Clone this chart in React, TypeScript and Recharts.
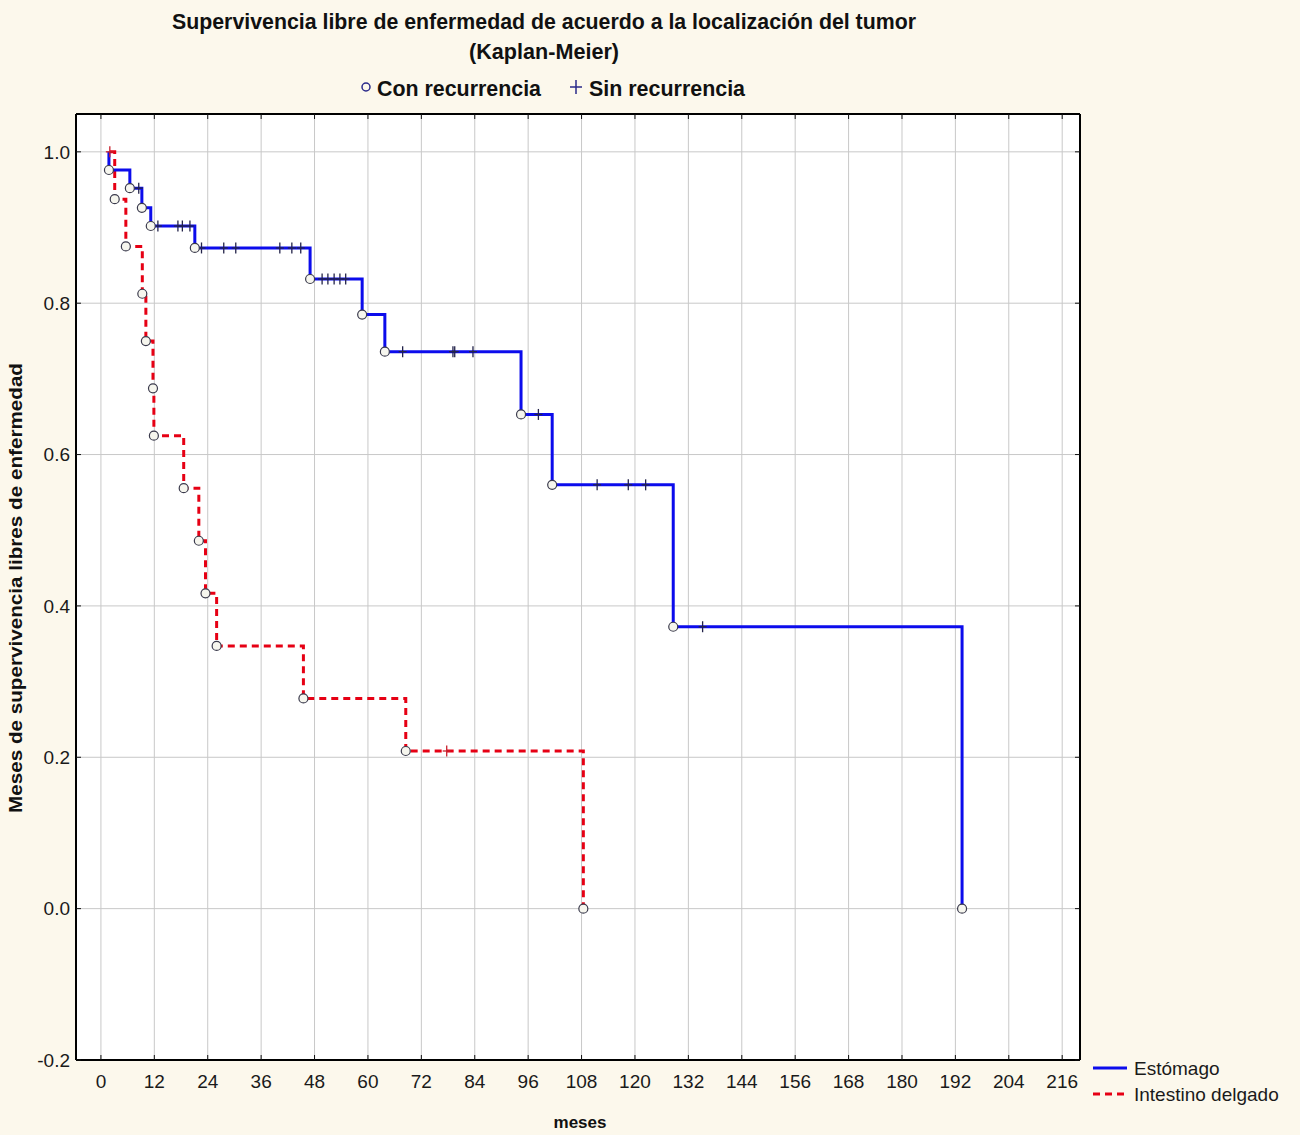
import { CartesianGrid, ComposedChart, Line, Scatter, XAxis, YAxis } from "recharts";

// months (x) and survival (y)
const xTicks = [0, 12, 24, 36, 48, 60, 72, 84, 96, 108, 120, 132, 144, 156, 168, 180, 192, 204, 216];
const yTicks = [-0.2, 0, 0.2, 0.4, 0.6, 0.8, 1.0];

// Estómago
const stomachStart = 1.8;
const stomachEventT = [1.8, 6.5, 9.2, 11.2, 21.1, 47.0, 58.7, 63.8, 94.4, 101.4, 128.6, 193.5];
const stomachEventS = [0.976, 0.952, 0.926, 0.902, 0.873, 0.832, 0.785, 0.736, 0.653, 0.56, 0.3725, 0];
const stomachCensorT = [
  8.5, 12.8, 17.3, 18.3, 20.0, 22.6, 27.6, 30.3, 40.2, 42.9, 44.9, 49.7, 51.0, 52.4, 53.7, 55.0,
  67.8, 79.1, 79.5, 83.6, 98.3, 111.5, 118.5, 122.4, 135.2,
];

// Intestino delgado
const bowelStart = 2.0;
const bowelEventT = [3.1, 5.6, 9.3, 10.1, 11.7, 11.9, 18.6, 22.0, 23.5, 26.0, 45.5, 68.5, 108.4];
const bowelEventS = [0.9375, 0.875, 0.8125, 0.75, 0.6875, 0.625, 0.5556, 0.4861, 0.4167, 0.3472, 0.2778, 0.2083, 0];
const bowelCensorT = [2.0, 77.7];

const BLUE = "#0c0cec";
const RED = "#e60014";
const CREAM = "#fcf8ec";

function stepLine(start: number, ts: number[], ss: number[]) {
  return [{ t: start, s: 1 }, ...ts.map((t, i) => ({ t, s: ss[i] }))];
}

function levelAt(t: number, ts: number[], ss: number[]) {
  let s = 1;
  ts.forEach((et, i) => {
    if (et <= t) s = ss[i];
  });
  return s;
}

const stomachLine = stepLine(stomachStart, stomachEventT, stomachEventS);
const bowelLine = stepLine(bowelStart, bowelEventT, bowelEventS);
const stomachEvents = stomachEventT.map((t, i) => ({ t, s: stomachEventS[i] }));
const bowelEvents = bowelEventT.map((t, i) => ({ t, s: bowelEventS[i] }));
const stomachCensors = stomachCensorT.map((t) => ({ t, s: levelAt(t, stomachEventT, stomachEventS) }));
const bowelCensors = bowelCensorT.map((t) => ({ t, s: levelAt(t, bowelEventT, bowelEventS) }));

const RingShape = (props: any) => (
  <circle cx={props.cx} cy={props.cy} r={4.5} fill="#f6f6ee" stroke="#3a3a4c" strokeWidth={1.2} />
);

const plusShape = (color: string) => (props: any) => (
  <g stroke={color} strokeWidth={1.3}>
    <line x1={props.cx} x2={props.cx} y1={props.cy - 5.5} y2={props.cy + 5.5} />
    <line x1={props.cx - 4} x2={props.cx + 4} y1={props.cy} y2={props.cy} />
  </g>
);

const NoTick = () => <g />;

const tickFont = { fontFamily: "Liberation Sans, Arial, sans-serif", fontSize: 19, fill: "#1a1a1a" };

export default function App() {
  return (
    <div style={{ position: "absolute", left: 0, top: 0, width: 1300, height: 1135, background: CREAM }}>
      <ComposedChart
        width={1300}
        height={1135}
        margin={{ top: 113, right: 219, bottom: 35, left: 16 }}
      >
        <CartesianGrid stroke="#c8c8c8" strokeWidth={1} fill="#ffffff" />
        <XAxis
          type="number"
          dataKey="t"
          domain={[-5.6, 220]}
          ticks={xTicks}
          allowDataOverflow
          height={40}
          tick={tickFont}
          tickSize={-5}
          tickMargin={20}
          tickLine={{ stroke: "#111" }}
          axisLine={{ stroke: "#000", strokeWidth: 2 }}
        />
        <XAxis
          xAxisId="top"
          orientation="top"
          type="number"
          dataKey="t"
          domain={[-5.6, 220]}
          ticks={xTicks}
          allowDataOverflow
          height={1}
          tick={NoTick}
          tickSize={-5}
          tickLine={{ stroke: "#111" }}
          axisLine={{ stroke: "#000", strokeWidth: 2 }}
        />
        <YAxis
          type="number"
          dataKey="s"
          domain={[-0.2, 1.05]}
          ticks={yTicks}
          allowDataOverflow
          width={60}
          tick={tickFont}
          tickSize={-5}
          tickMargin={11}
          tickFormatter={(v: number) => v.toFixed(1)}
          tickLine={{ stroke: "#111" }}
          axisLine={{ stroke: "#000", strokeWidth: 2 }}
        />
        <YAxis
          yAxisId="right"
          orientation="right"
          type="number"
          dataKey="s"
          domain={[-0.2, 1.05]}
          ticks={yTicks}
          allowDataOverflow
          width={1}
          tick={NoTick}
          tickSize={-5}
          tickLine={{ stroke: "#111" }}
          axisLine={{ stroke: "#000", strokeWidth: 2 }}
        />
        <Line
          data={bowelLine}
          dataKey="s"
          type="stepAfter"
          stroke={RED}
          strokeWidth={3}
          strokeDasharray="7 5"
          dot={false}
          activeDot={false}
          isAnimationActive={false}
        />
        <Line
          data={stomachLine}
          dataKey="s"
          type="stepAfter"
          stroke={BLUE}
          strokeWidth={3}
          dot={false}
          activeDot={false}
          isAnimationActive={false}
        />
        <Scatter data={bowelCensors} dataKey="s" shape={plusShape("#c8202c")} isAnimationActive={false} />
        <Scatter data={stomachCensors} dataKey="s" shape={plusShape("#23234a")} isAnimationActive={false} />
        <Scatter data={bowelEvents} dataKey="s" shape={RingShape} isAnimationActive={false} />
        <Scatter data={stomachEvents} dataKey="s" shape={RingShape} isAnimationActive={false} />
      </ComposedChart>

      <svg
        width={1300}
        height={1135}
        style={{ position: "absolute", left: 0, top: 0, pointerEvents: "none" }}
      >
        <g
          fontFamily="Liberation Sans, Arial, sans-serif"
          fontWeight="bold"
          fontSize={22}
          fill="#111"
          textAnchor="middle"
        >
          <text x={544} y={29} textLength={744} lengthAdjust="spacingAndGlyphs">
            Supervivencia libre de enfermedad de acuerdo a la localización del tumor
          </text>
          <text x={544} y={59} textLength={150} lengthAdjust="spacingAndGlyphs">(Kaplan-Meier)</text>
          <text x={377} y={96} textAnchor="start" textLength={164} lengthAdjust="spacingAndGlyphs">
            Con recurrencia
          </text>
          <text x={589} y={96} textAnchor="start" textLength={156} lengthAdjust="spacingAndGlyphs">
            Sin recurrencia
          </text>
        </g>
        <circle cx={366} cy={87} r={4} fill="none" stroke="#2a2a8a" strokeWidth={1.5} />
        <g stroke="#2a2a8a" strokeWidth={1.5}>
          <line x1={576} x2={576} y1={80} y2={94} />
          <line x1={570} x2={582} y1={87} y2={87} />
        </g>

        <g fontFamily="Liberation Sans, Arial, sans-serif" fontWeight="bold" fontSize={17} fill="#111" textAnchor="middle">
          <text x={580} y={1128}>meses</text>
          <text
            transform="translate(22 588) rotate(-90)"
            fontSize={18}
            textLength={450}
            lengthAdjust="spacingAndGlyphs"
          >
            Meses de supervivencia libres de enfermedad
          </text>
        </g>

        <line x1={1093} x2={1127} y1={1068} y2={1068} stroke={BLUE} strokeWidth={3} />
        <line x1={1093} x2={1127} y1={1094} y2={1094} stroke={RED} strokeWidth={3} strokeDasharray="7 5" />
        <g fontFamily="Liberation Sans, Arial, sans-serif" fontSize={19} fill="#1a1a1a">
          <text x={1134} y={1075}>Estómago</text>
          <text x={1134} y={1101}>Intestino delgado</text>
        </g>
      </svg>
    </div>
  );
}
